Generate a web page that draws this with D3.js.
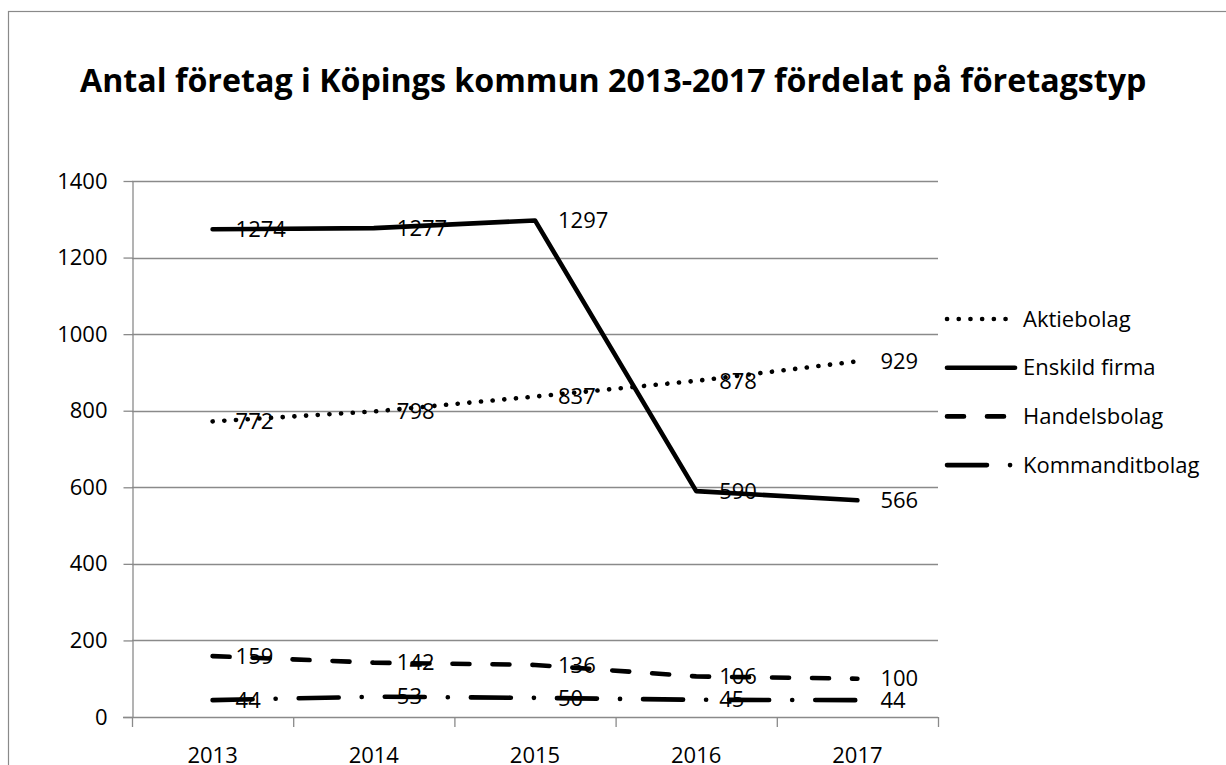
<!DOCTYPE html>
<html>
<head>
<meta charset="utf-8">
<script src="https://cdn.jsdelivr.net/npm/d3@7"></script>
<style>
  body { margin: 0; background: #fff; }
  svg text { font-family: "Open Sans", sans-serif; fill: #000; }
</style>
</head>
<body>
<svg id="chart"></svg>
<script>
// Chart data
const years = ["2013", "2014", "2015", "2016", "2017"];
const seriesNames = ["Aktiebolag", "Enskild firma", "Handelsbolag", "Kommanditbolag"];
const aktiebolag = [772, 798, 837, 878, 929];
const enskildFirma = [1274, 1277, 1297, 590, 566];
const handelsbolag = [159, 142, 136, 106, 100];
const kommanditbolag = [44, 53, 50, 45, 44];
const yTicks = [0, 200, 400, 600, 800, 1000, 1200, 1400];
const title = "Antal företag i Köpings kommun 2013-2017 fördelat på företagstyp";

const width = 1226, height = 765;
const plot = { left: 132, right: 938, top: 181, bottom: 717 };

// Line styles per series (dotted, solid, dashed, long dash-dot)
const dashes = ["0.1 11.6", null, "17 23", "40 23 0.1 23"];

const series = seriesNames.map((name, i) => ({
    name,
    values: [aktiebolag, enskildFirma, handelsbolag, kommanditbolag][i],
    dash: dashes[i]
}));

const svg = d3.select("#chart")
    .attr("width", width)
    .attr("height", height);

// Outer chart border (runs past the right and bottom edges)
svg.append("rect")
    .attr("x", 8.5).attr("y", 11.5)
    .attr("width", 1300).attr("height", 900)
    .attr("fill", "none")
    .attr("stroke", "#8a8a8a")
    .attr("stroke-width", 1.2);

// Title
const titleText = svg.append("text")
    .attr("x", 80).attr("y", 92)
    .attr("font-weight", "bold")
    .attr("font-size", 28)
    .text(title);
// fit title width to the reference
const tw = titleText.node().getComputedTextLength();
titleText.attr("font-size", 28 * 1067 / tw);

// Scales
const x = d3.scaleBand().domain(years).range([plot.left, plot.right]).padding(0);
const y = d3.scaleLinear().domain([0, 1400]).range([plot.bottom, plot.top]);
const cx = d => x(d) + x.bandwidth() / 2;

// Gridlines
svg.append("g")
    .selectAll("line")
    .data(yTicks.filter(d => d > 0))
    .join("line")
    .attr("x1", plot.left).attr("x2", plot.right)
    .attr("y1", d => Math.round(y(d)) + 0.5).attr("y2", d => Math.round(y(d)) + 0.5)
    .attr("stroke", "#8a8a8a")
    .attr("stroke-width", 1.3);

// Y axis
const yAxis = svg.append("g")
    .attr("transform", `translate(${plot.left + 0.5},0)`)
    .call(d3.axisLeft(y).tickValues(yTicks).tickFormat(d3.format("d"))
        .tickSize(9).tickPadding(16).tickSizeOuter(0));
yAxis.select(".domain").attr("stroke", "#8a8a8a").attr("stroke-width", 1.3);
yAxis.selectAll(".tick line").attr("stroke", "#8a8a8a").attr("stroke-width", 1.3);
yAxis.selectAll(".tick text")
    .attr("font-size", 22)
    .attr("font-family", "Open Sans, sans-serif");

// X axis (ticks at category boundaries)
const boundaries = years.map(d => x(d)).concat([plot.right]);
const xg = svg.append("g");
xg.append("line")
    .attr("x1", plot.left - 9).attr("x2", plot.right)
    .attr("y1", plot.bottom + 0.5).attr("y2", plot.bottom + 0.5)
    .attr("stroke", "#8a8a8a").attr("stroke-width", 1.3);
xg.selectAll(".xtick")
    .data(boundaries)
    .join("line")
    .attr("class", "xtick")
    .attr("x1", d => d + 0.5).attr("x2", d => d + 0.5)
    .attr("y1", plot.bottom).attr("y2", plot.bottom + 10)
    .attr("stroke", "#8a8a8a").attr("stroke-width", 1.3);
xg.selectAll(".xlabel")
    .data(years)
    .join("text")
    .attr("class", "xlabel")
    .attr("x", cx)
    .attr("y", 763)
    .attr("text-anchor", "middle")
    .attr("font-size", 22)
    .text(d => d);

// Lines
const line = d3.line()
    .x((d, i) => cx(years[i]))
    .y(d => y(d));

svg.append("g")
    .selectAll("path")
    .data(series)
    .join("path")
    .attr("d", d => line(d.values))
    .attr("fill", "none")
    .attr("stroke", "#000")
    .attr("stroke-width", 4.6)
    .attr("stroke-linecap", "round")
    .attr("stroke-linejoin", "round")
    .attr("stroke-dasharray", d => d.dash);

// Data labels
series.forEach(s => {
    svg.append("g")
        .selectAll("text")
        .data(s.values)
        .join("text")
        .attr("x", (d, i) => cx(years[i]) + 23)
        .attr("y", d => y(d))
        .attr("dy", "0.35em")
        .attr("font-size", 22)
        .text(d => d);
});

// Legend
const legend = svg.append("g")
    .selectAll("g")
    .data(series)
    .join("g")
    .attr("transform", (d, i) => `translate(945,${319 + i * 48.7})`);
legend.append("line")
    .attr("x1", 2).attr("x2", d => d.dash === "0.1 11.6" ? 62 : 70)
    .attr("stroke", "#000")
    .attr("stroke-width", 4.6)
    .attr("stroke-linecap", "round")
    .attr("stroke-dasharray", d => d.dash);
legend.append("text")
    .attr("x", 78)
    .attr("dy", "0.35em")
    .attr("font-size", 22)
    .text(d => d.name);
</script>
</body>
</html>
